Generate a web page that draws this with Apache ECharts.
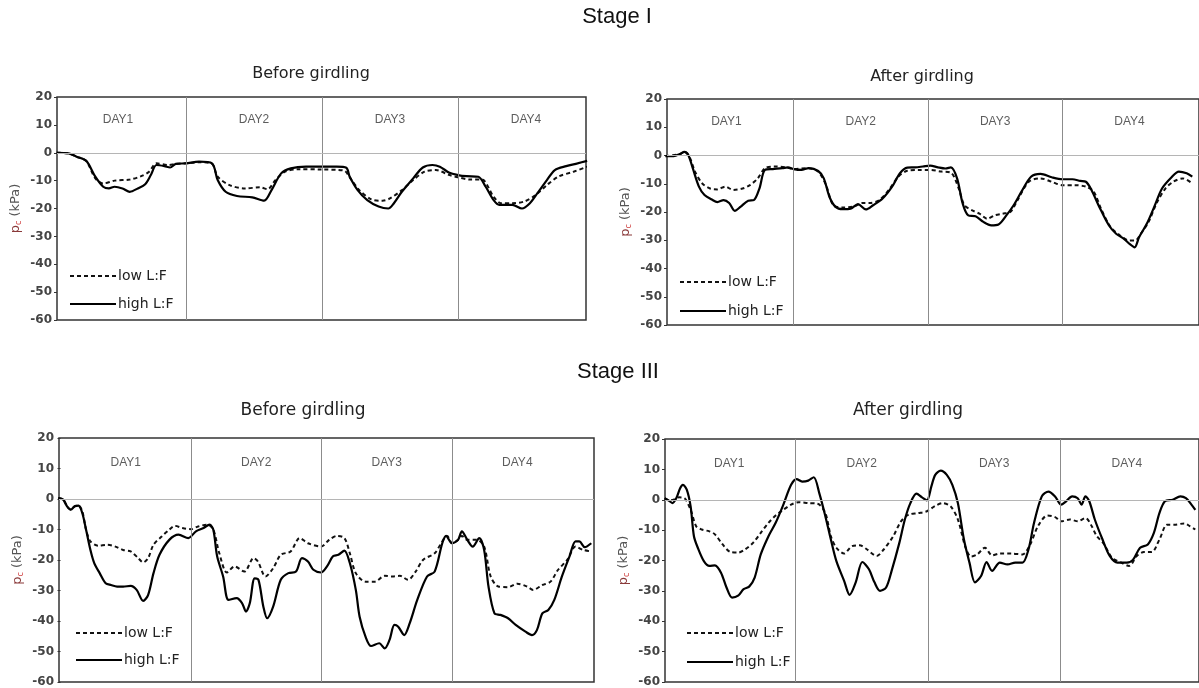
<!DOCTYPE html>
<html><head><meta charset="utf-8">
<script src="https://cdn.jsdelivr.net/npm/echarts@6.0.0/dist/echarts.min.js"></script>
<style>html,body{margin:0;padding:0;background:#fff}#c{width:1199px;height:688px}</style>
</head><body><div id="c"></div>
<script>
// x = hours since start of DAY1, y = p_c (kPa)
var dayNames = ['DAY1','DAY2','DAY3','DAY4'];
var dayNoons = [12, 36, 60, 84];
var dayBounds = [24, 48, 72];
var yTicks = {min:-60, max:20, interval:10};
var stageTitles = ['Stage I','Stage III'];
var panelTitles = ['Before girdling','After girdling','Before girdling','After girdling'];
var seriesNames = ['low L:F','high L:F'];

var s1BeforeHigh = [[1.2,0],[3.3,-0.2],[4.7,-1.4],[6.4,-2.9],[8.0,-8.6],[9.4,-12.2],[10.4,-12.8],[11.4,-12.2],[12.8,-12.8],[14.1,-14.0],[15.5,-12.8],[16.8,-11.3],[17.8,-8.0],[18.8,-4.4],[20.2,-4.8],[21.2,-5.3],[22.2,-4.0],[24.0,-3.8],[26.3,-3.2],[28.6,-3.8],[29.6,-9.8],[31.0,-14.0],[33.0,-15.5],[35.7,-16.0],[37.8,-17.2],[39.1,-13.4],[40.8,-7.4],[42.5,-5.6],[45.2,-5.0],[47.9,-5.0],[50.6,-5.0],[52.3,-5.4],[52.9,-8.6],[54.3,-13.4],[56.0,-17.0],[58.0,-19.3],[59.7,-20.0],[60.7,-18.1],[62.1,-14.0],[64.1,-9.2],[65.8,-5.3],[67.5,-4.4],[68.8,-5.0],[70.5,-7.2],[72.0,-8.0],[73.5,-8.4],[75.6,-8.6],[76.9,-12.2],[78.3,-17.0],[79.3,-18.7],[80.6,-18.7],[81.6,-18.7],[83.3,-20.0],[84.7,-18.1],[86.0,-14.6],[87.7,-9.8],[89.1,-6.2],[91.1,-4.8],[93.1,-3.8],[94.8,-2.9]];
var s1BeforeLow = [[1.2,0],[3.3,-0.2],[4.7,-1.4],[6.4,-3.0],[8.0,-9.2],[9.4,-11.0],[11.4,-10.0],[14.1,-9.6],[16.1,-8.4],[17.5,-6.8],[18.8,-3.8],[20.9,-4.4],[22.2,-4.0],[24.0,-3.8],[26.3,-3.4],[28.6,-4.0],[29.6,-8.6],[31.7,-11.6],[34.4,-12.8],[37.1,-12.4],[38.4,-13.1],[39.8,-9.8],[41.5,-6.8],[43.8,-5.9],[47.9,-6.0],[51.9,-6.4],[52.9,-8.8],[54.6,-13.4],[56.7,-16.7],[58.7,-17.2],[60.0,-16.4],[62.1,-13.4],[64.1,-9.8],[66.1,-6.8],[68.1,-6.2],[70.5,-8.0],[72.0,-8.8],[74.2,-9.6],[76.2,-9.6],[78.3,-15.8],[79.6,-18.1],[81.6,-18.1],[83.7,-17.5],[85.7,-15.2],[87.7,-11.6],[89.7,-8.6],[92.4,-6.8],[94.8,-5.0]];

var s1AfterHigh = [[1.1,-0.2],[2.6,-0.2],[3.7,0.5],[4.5,1.3],[5.2,0.2],[6.0,-4.5],[7.1,-11.0],[8.1,-14.0],[9.4,-15.6],[10.4,-16.5],[11.5,-15.8],[12.5,-16.8],[13.5,-19.6],[14.5,-18.2],[15.9,-16.0],[16.9,-15.8],[17.9,-11.7],[18.9,-5.1],[20.3,-4.8],[22.0,-4.5],[23.0,-4.2],[24.0,-4.8],[25.4,-5.1],[26.7,-4.5],[28.4,-5.5],[29.4,-8.1],[30.4,-14.6],[31.5,-18.2],[32.8,-19.0],[34.2,-18.8],[35.5,-17.2],[36.9,-19.1],[38.2,-17.6],[39.9,-15.2],[41.6,-11.0],[43.0,-6.3],[44.3,-4.3],[45.7,-4.2],[47.1,-3.9],[48.4,-3.6],[49.8,-4.2],[51.1,-4.6],[52.1,-4.2],[53.2,-8.1],[54.2,-17.0],[55.2,-21.2],[56.5,-21.5],[57.9,-23.5],[59.3,-24.7],[60.6,-24.4],[62.0,-21.2],[63.3,-17.6],[64.7,-12.8],[66.4,-7.5],[68.1,-6.5],[70.1,-7.7],[72.0,-8.4],[73.8,-8.4],[75.2,-9.0],[76.2,-9.3],[77.2,-12.2],[78.6,-18.2],[80.3,-24.7],[81.6,-27.7],[83.0,-29.5],[84.0,-31.3],[84.9,-32.5],[85.7,-28.9],[87.1,-24.1],[88.4,-18.2],[89.8,-11.7],[91.5,-7.7],[92.8,-5.7],[94.2,-6.3],[95.2,-7.5]];
var s1AfterLow = [[1.1,-0.2],[3.7,0.5],[4.5,1.3],[5.4,-0.4],[6.4,-5.7],[7.7,-9.9],[9.1,-11.7],[10.4,-12.0],[11.8,-11.0],[13.2,-12.2],[14.9,-11.7],[16.2,-10.5],[17.6,-8.1],[18.9,-4.5],[20.6,-3.9],[22.6,-4.2],[24.0,-4.8],[26.7,-4.5],[28.4,-5.7],[29.8,-10.5],[31.1,-17.6],[32.8,-18.4],[34.9,-18.0],[36.2,-16.8],[37.6,-16.8],[39.3,-15.8],[41.0,-12.2],[42.7,-7.5],[44.3,-5.4],[46.4,-5.1],[48.4,-5.1],[50.4,-5.7],[52.1,-6.1],[53.5,-11.7],[54.5,-17.6],[55.9,-19.4],[57.2,-20.6],[58.6,-22.4],[59.9,-21.2],[61.3,-20.6],[62.7,-20.0],[64.0,-15.8],[66.0,-9.3],[68.1,-8.1],[70.1,-9.3],[72.0,-10.5],[74.2,-10.5],[76.2,-11.0],[77.6,-12.8],[78.9,-18.8],[80.6,-25.3],[82.3,-28.3],[84.0,-30.1],[85.0,-30.1],[86.0,-27.7],[87.4,-23.5],[88.8,-17.0],[90.4,-11.7],[91.8,-9.3],[93.5,-8.1],[95.2,-9.9]];

var s3BeforeHigh = [[-0.4,0.3],[0.5,-0.2],[1.2,-2.4],[1.9,-3.5],[2.6,-2.4],[3.3,-2.2],[4.0,-4.6],[4.7,-10.1],[5.5,-16.7],[6.2,-21.0],[7.2,-24.3],[8.3,-27.6],[9.3,-28.2],[10.4,-28.7],[11.5,-28.7],[12.9,-28.5],[14.0,-29.8],[15.2,-33.4],[16.1,-31.5],[17.1,-24.3],[18.2,-18.3],[20.0,-13.4],[21.7,-11.7],[23.5,-12.8],[24.9,-10.6],[26.3,-9.5],[27.4,-8.4],[28.1,-10.1],[28.8,-18.8],[29.9,-25.4],[30.9,-33.1],[32.4,-32.5],[33.4,-34.2],[34.1,-36.9],[34.8,-34.2],[35.7,-26.0],[36.4,-26.5],[37.3,-35.3],[38.0,-39.1],[39.1,-35.3],[40.5,-26.5],[41.9,-24.3],[43.3,-23.8],[44.4,-19.4],[45.5,-20.5],[46.5,-23.2],[47.9,-24.1],[49.0,-22.1],[50.1,-18.8],[51.1,-18.3],[52.2,-16.9],[53.2,-21.0],[54.3,-29.8],[55.0,-38.6],[56.1,-45.2],[57.1,-48.2],[58.6,-47.3],[59.6,-49.0],[60.5,-46.2],[61.4,-41.3],[62.1,-41.9],[63.2,-44.6],[64.2,-40.8],[65.6,-33.1],[67.4,-25.4],[68.8,-23.8],[70.2,-14.5],[70.9,-12.1],[72.0,-14.5],[73.1,-13.4],[73.8,-10.6],[74.8,-13.4],[75.8,-15.6],[77.0,-12.8],[77.9,-16.7],[78.7,-28.7],[79.8,-37.5],[80.9,-38.0],[82.3,-39.1],[83.7,-41.3],[85.5,-43.5],[86.7,-44.6],[87.6,-43.0],[88.6,-37.5],[89.7,-36.4],[90.8,-33.1],[92.2,-25.4],[93.6,-18.8],[94.7,-13.9],[95.4,-13.9],[96.4,-15.8],[97.6,-14.5]];
var s3BeforeLow = [[-0.4,0.3],[0.5,-0.2],[1.2,-2.4],[1.9,-3.5],[2.6,-2.4],[3.3,-2.2],[4.0,-4.0],[4.7,-10.1],[5.5,-13.9],[6.9,-15.3],[8.6,-15.0],[10.1,-15.6],[11.5,-16.7],[12.9,-17.2],[14.3,-19.4],[15.2,-20.8],[16.1,-19.4],[17.1,-15.0],[18.6,-12.3],[20.0,-10.1],[21.0,-8.8],[22.4,-9.5],[24.0,-9.9],[25.3,-9.0],[27.0,-8.4],[28.1,-10.1],[29.2,-17.8],[30.6,-24.1],[32.0,-22.1],[33.8,-23.8],[35.5,-19.4],[36.3,-20.5],[37.7,-25.4],[39.1,-22.7],[40.5,-18.3],[42.3,-17.2],[44.0,-12.8],[45.5,-14.5],[47.9,-15.6],[49.4,-13.4],[50.8,-12.1],[52.2,-12.8],[53.2,-17.8],[54.3,-24.3],[56.1,-27.1],[57.8,-27.1],[59.6,-25.2],[61.0,-25.4],[62.4,-25.2],[63.9,-26.5],[65.3,-23.8],[66.7,-19.9],[68.8,-17.8],[70.2,-13.9],[71.1,-12.1],[72.0,-14.5],[73.1,-13.4],[73.8,-12.1],[74.8,-13.4],[76.6,-13.4],[77.9,-15.6],[79.1,-25.4],[80.5,-28.7],[82.3,-28.9],[84.0,-27.8],[85.8,-28.7],[86.9,-29.8],[88.6,-28.2],[90.1,-27.1],[91.5,-23.2],[93.2,-19.9],[94.7,-15.6],[96.1,-16.7],[97.6,-17.2]];

var s3AfterHigh = [[0.3,0.5],[1.0,-0.2],[1.7,-1.1],[2.4,0.5],[3.1,3.8],[3.6,4.9],[4.3,3.3],[5.0,-2.2],[5.6,-12.0],[6.3,-15.8],[7.4,-20.2],[8.4,-21.8],[9.4,-21.6],[10.5,-24.0],[11.5,-28.9],[12.5,-32.2],[13.6,-31.6],[14.6,-29.4],[15.6,-28.6],[16.6,-25.6],[17.7,-18.0],[19.1,-12.0],[20.4,-7.6],[21.8,-1.6],[23.2,4.9],[24.2,6.8],[25.2,6.0],[26.3,6.3],[27.3,7.4],[28.3,2.2],[29.4,-5.4],[30.4,-13.1],[31.4,-20.2],[32.8,-26.7],[33.8,-31.3],[34.9,-27.2],[36.1,-20.5],[37.3,-22.9],[38.3,-27.2],[39.3,-30.0],[40.4,-28.9],[41.4,-23.4],[42.8,-14.2],[43.8,-6.5],[44.8,-1.1],[45.9,2.0],[46.9,0.8],[47.8,-0.2],[48.6,4.4],[49.3,8.2],[50.3,9.6],[51.4,8.2],[52.4,4.9],[53.4,-1.1],[54.5,-13.1],[55.5,-20.7],[56.5,-27.2],[57.6,-25.1],[58.6,-20.5],[59.6,-23.4],[61.0,-20.7],[62.4,-21.3],[63.8,-20.7],[65.1,-20.7],[66.2,-16.3],[67.2,-7.6],[68.6,1.1],[69.8,2.7],[71.0,1.1],[72.1,-1.6],[73.0,-0.5],[74.1,1.1],[75.1,0.5],[75.8,-1.6],[76.5,1.1],[77.2,-0.5],[78.2,-6.5],[79.6,-13.1],[80.9,-18.5],[82.3,-20.7],[84.0,-20.7],[85.1,-19.8],[86.4,-15.8],[87.8,-14.7],[88.9,-10.9],[89.9,-4.4],[90.9,-0.5],[92.3,0.0],[93.7,1.1],[94.7,0.5],[95.7,-1.6],[96.4,-3.3]];
var s3AfterLow = [[0.3,0.5],[1.0,-0.2],[1.9,0.0],[2.9,0.8],[3.9,0.5],[5.0,-3.3],[6.0,-8.7],[7.0,-9.8],[8.4,-10.4],[9.4,-11.4],[10.8,-14.7],[12.2,-17.2],[13.6,-17.4],[14.9,-16.3],[16.3,-14.2],[17.7,-10.9],[19.1,-7.6],[20.4,-5.2],[21.8,-3.3],[23.2,-1.6],[24.6,-0.8],[26.3,-1.1],[28.0,-1.3],[29.4,-4.4],[30.4,-12.0],[31.4,-15.8],[32.8,-17.7],[34.2,-15.3],[35.6,-15.0],[36.9,-16.3],[38.7,-18.5],[40.0,-16.3],[41.7,-12.0],[43.1,-7.1],[44.5,-4.9],[46.2,-4.4],[47.8,-3.8],[49.3,-2.0],[50.7,-1.1],[52.1,-2.2],[53.4,-6.5],[54.8,-15.8],[55.8,-18.7],[56.9,-18.0],[58.3,-15.8],[59.6,-18.3],[61.0,-17.7],[63.1,-17.7],[65.1,-18.0],[66.5,-14.7],[67.9,-8.7],[69.6,-5.2],[71.0,-5.7],[72.1,-7.1],[73.7,-6.5],[75.1,-7.1],[76.5,-6.0],[77.5,-8.2],[78.5,-11.8],[79.9,-14.7],[81.3,-19.1],[83.0,-20.7],[84.4,-21.8],[85.8,-18.5],[87.1,-17.2],[88.5,-17.2],[89.9,-13.1],[91.3,-8.2],[92.6,-8.2],[94.4,-7.8],[95.4,-8.7],[96.4,-9.8]];

var panelLow = [s1BeforeLow, s1AfterLow, s3BeforeLow, s3AfterLow];
var panelHigh = [s1BeforeHigh, s1AfterHigh, s3BeforeHigh, s3AfterHigh];
var xRange = [[1.24,94.6],[1.4,96.4],[-0.28,98.1],[0.36,97.07]];

// layout (pixels)
var grids = [
  {left:57, top:97, width:529, height:223},
  {left:667, top:99, width:538, height:226},
  {left:59, top:438, width:535, height:244},
  {left:665, top:439, width:540, height:245}
];
var legendPos = [
  {left:64, top:264, itemGap:14},
  {left:674, top:270, itemGap:15},
  {left:70, top:621, itemGap:13},
  {left:681, top:621, itemGap:15}
];
var panelTitlePos = [[311,74,16],[922,77,16],[303,411,17],[908,411,17]];
var stageTitlePos = [[617,17],[618,372]];

var chart = echarts.init(document.getElementById('c'), null, {renderer:'canvas'});
var xAxes = [], yAxes = [], series = [], legends = [], graphics = [];
var FONT = 'DejaVu Sans';

for (var i = 0; i < 4; i++) {
  xAxes.push({type:'value', gridIndex:i, min:xRange[i][0], max:xRange[i][1],
    axisLine:{show:false}, axisTick:{show:false}, axisLabel:{show:false}, splitLine:{show:false}});
  yAxes.push({type:'value', gridIndex:i, min:yTicks.min, max:yTicks.max, interval:yTicks.interval,
    axisLine:{show:false},
    axisTick:{show:true, length:3, lineStyle:{color:'#333'}},
    axisLabel:{color:'#444', fontFamily:FONT, fontSize:12, margin:5, fontWeight:'bold'},
    splitLine:{show:false},
    name:'{p|p}{c|c}{n| (kPa)}', nameLocation:'middle', nameGap:34, nameRotate:90,
    nameTextStyle:{rich:{
      p:{fontFamily:FONT, fontSize:13, color:'#8a3a3a'},
      c:{fontFamily:FONT, fontSize:8, color:'#d04040', padding:[7,0,0,0]},
      n:{fontFamily:FONT, fontSize:13, color:'#555'}
    }}
  });
  // day dividers, zero line and day labels
  series.push({type:'scatter', xAxisIndex:i, yAxisIndex:i, silent:true, symbolSize:0,
    data: dayNames.map(function(d, k){ return [dayNoons[k], 12, d]; }),
    label:{show:true, position:'inside', formatter:function(p){return p.value[2];},
      color:'#333', fontFamily:'Liberation Sans', fontSize:12},
    markLine:{silent:true, symbol:'none', label:{show:false}, animation:false,
      data: dayBounds.map(function(b){ return {xAxis:b, lineStyle:{color:'#8c8c8c', width:1, type:'solid'}}; })
        .concat([{yAxis:0, lineStyle:{color:'#b5b5b5', width:1, type:'solid'}}])}
  });
  series.push({type:'line', name:seriesNames[0], xAxisIndex:i, yAxisIndex:i, data:panelLow[i],
    showSymbol:false, symbol:'none', smooth:0.3, clip:true,
    lineStyle:{color:'#111', width:2, type:[4,3]}, itemStyle:{color:'#111'}, z:3});
  series.push({type:'line', name:seriesNames[1], xAxisIndex:i, yAxisIndex:i, data:panelHigh[i],
    showSymbol:false, symbol:'none', smooth:0.3, clip:true,
    lineStyle:{color:'#000', width:2.2, type:'solid'}, itemStyle:{color:'#000'}, z:4});
  legends.push({orient:'vertical', left:legendPos[i].left, top:legendPos[i].top, itemGap:legendPos[i].itemGap,
    itemWidth:46, itemHeight:14, selectedMode:false, data:seriesNames.slice(),
    itemStyle:{opacity:0, borderWidth:0},
    lineStyle:{width:2},
    textStyle:{fontFamily:FONT, fontSize:14, color:'#222', padding:[0,0,0,-3]}});
  graphics.push({type:'text', x:panelTitlePos[i][0], y:panelTitlePos[i][1],
    style:{text:panelTitles[i], fontFamily:FONT, fontSize:panelTitlePos[i][2], fill:'#222', textAlign:'center', textVerticalAlign:'middle'}});
}
for (var j = 0; j < 2; j++) {
  graphics.push({type:'text', x:stageTitlePos[j][0], y:stageTitlePos[j][1],
    style:{text:stageTitles[j], fontFamily:'Liberation Sans', fontSize:22, fill:'#111', textAlign:'center', textVerticalAlign:'middle'}});
}

chart.setOption({
  animation:false,
  backgroundColor:'#fff',
  grid: grids.map(function(g){ return Object.assign({show:true, borderColor:'#333', borderWidth:1.5, backgroundColor:'transparent', containLabel:false}, g); }),
  xAxis:xAxes, yAxis:yAxes, series:series, legend:legends, graphic:graphics
});
</script></body></html>
